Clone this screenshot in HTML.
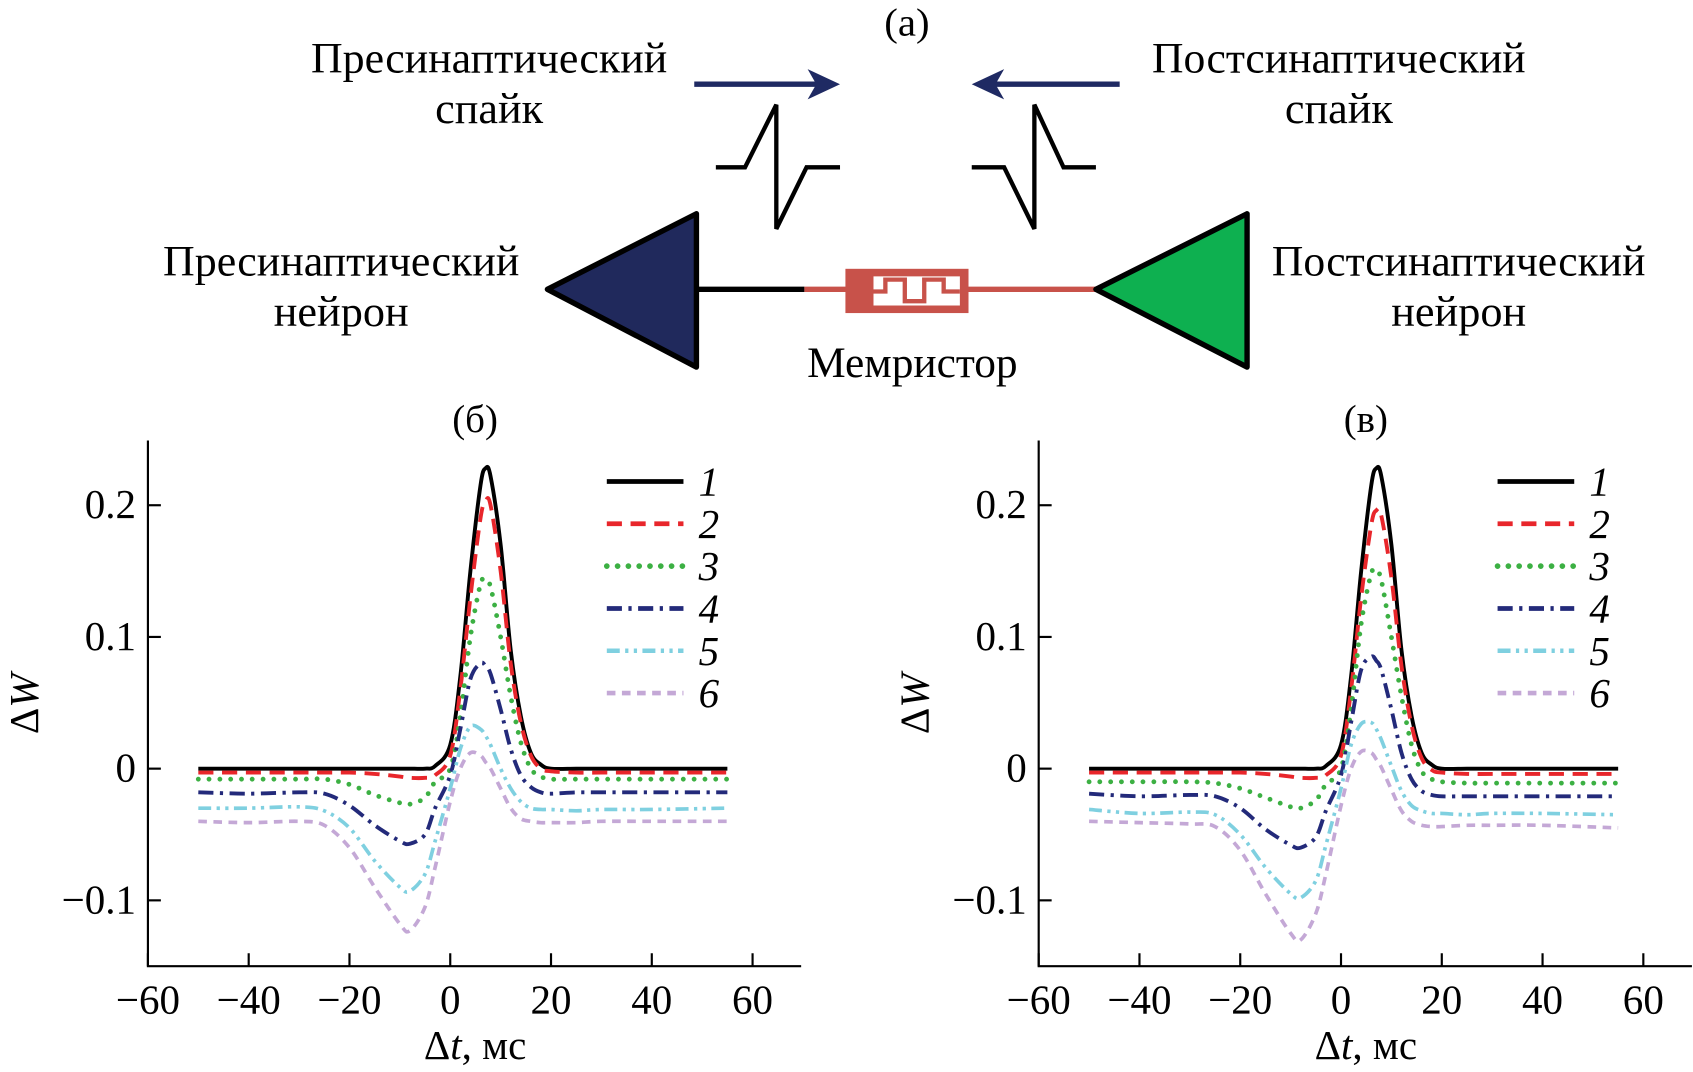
<!DOCTYPE html>
<html><head><meta charset="utf-8"><style>
html,body{margin:0;padding:0;background:#fff;}
svg{display:block;}
text{font-family:"Liberation Serif",serif;fill:#000;}
</style></head><body>
<svg id="fig" width="1693" height="1072" viewBox="0 0 1568 993" preserveAspectRatio="none" xmlns="http://www.w3.org/2000/svg">
<g>
<text x="840" y="33" font-size="36" text-anchor="middle" textLength="42" lengthAdjust="spacingAndGlyphs">(а)</text>
<text x="453" y="67" font-size="40" text-anchor="middle" textLength="330" lengthAdjust="spacingAndGlyphs">Пресинаптический</text>
<text x="453" y="114" font-size="40" text-anchor="middle" textLength="100" lengthAdjust="spacingAndGlyphs">спайк</text>
<text x="1240" y="67" font-size="40" text-anchor="middle" textLength="346" lengthAdjust="spacingAndGlyphs">Постсинаптический</text>
<text x="1240" y="114" font-size="40" text-anchor="middle" textLength="100" lengthAdjust="spacingAndGlyphs">спайк</text>
<text x="316" y="255" font-size="40" text-anchor="middle" textLength="330" lengthAdjust="spacingAndGlyphs">Пресинаптический</text>
<text x="316" y="302" font-size="40" text-anchor="middle" textLength="125" lengthAdjust="spacingAndGlyphs">нейрон</text>
<text x="1351" y="255" font-size="40" text-anchor="middle" textLength="346" lengthAdjust="spacingAndGlyphs">Постсинаптический</text>
<text x="1351" y="302" font-size="40" text-anchor="middle" textLength="125" lengthAdjust="spacingAndGlyphs">нейрон</text>
<text x="845" y="349" font-size="40" text-anchor="middle" textLength="195" lengthAdjust="spacingAndGlyphs">Мемристор</text>
<g><line x1="643" y1="78" x2="760" y2="78" stroke="#1f2a63" stroke-width="5"/><polygon points="778,78 748,64 756,78 748,92" fill="#1f2a63"/></g>
<g><line x1="1037" y1="78" x2="918" y2="78" stroke="#1f2a63" stroke-width="5"/><polygon points="900,78 930,64 922,78 930,92" fill="#1f2a63"/></g>
<polyline points="663,155 690,155 719,97 719,212 747,155 778,155" fill="none" stroke="#000" stroke-width="4"/>
<polyline points="900,155 930,155 958,212 958,97 985,155 1015,155" fill="none" stroke="#000" stroke-width="4"/>
<line x1="645" y1="268" x2="745" y2="268" stroke="#000" stroke-width="5"/>
<line x1="745" y1="268" x2="1015" y2="268" stroke="#c8524a" stroke-width="5"/>
<polygon points="507,268 645,198 645,340" fill="#20295c" stroke="#000" stroke-width="5" stroke-linejoin="round"/>
<polygon points="1015,268 1155,198 1155,340" fill="#0eb050" stroke="#000" stroke-width="5" stroke-linejoin="round"/>
<g>
<rect x="783" y="249" width="114" height="41" fill="#c8524a"/>
<rect x="809" y="256" width="80" height="27" fill="#fff"/>
<polyline points="809,270 820,270 820,259 838,259 838,279 856,279 856,259 874,259 874,270 889,270" fill="none" stroke="#c8524a" stroke-width="4"/>
</g>
<text x="440" y="400" font-size="36" text-anchor="middle">(б)</text>
<text x="1265" y="400" font-size="36" text-anchor="middle">(в)</text>
</g>
<g id="chartL"></g>
<g id="chartR"></g>
</svg>
<script>
const xs = [-50,-40,-30,-25,-20,-15,-10,-8,-5,-3,0,2,4,6,7,8,10,12,14,16,18,20,25,30,40,55];
const L1 = [0,0,0,0,0,0,0,0,0,0.002,0.018,0.07,0.15,0.215,0.228,0.222,0.17,0.09,0.04,0.012,0.003,0,0,0,0,0];
const L2 = [-0.003,-0.003,-0.003,-0.003,-0.003,-0.004,-0.006,-0.007,-0.007,-0.005,0.01,0.06,0.13,0.19,0.203,0.2,0.15,0.08,0.035,0.01,0,-0.002,-0.003,-0.003,-0.003,-0.003];
const L3 = [-0.008,-0.008,-0.008,-0.008,-0.012,-0.02,-0.026,-0.027,-0.022,-0.01,0.0,0.04,0.1,0.14,0.143,0.138,0.1,0.055,0.02,0.0,-0.006,-0.008,-0.008,-0.008,-0.008,-0.008];
const L4 = [-0.018,-0.019,-0.018,-0.019,-0.028,-0.043,-0.055,-0.057,-0.05,-0.03,-0.005,0.03,0.068,0.08,0.078,0.072,0.045,0.015,-0.005,-0.014,-0.018,-0.019,-0.018,-0.018,-0.018,-0.018];
const L5 = [-0.03,-0.03,-0.029,-0.032,-0.045,-0.07,-0.09,-0.093,-0.08,-0.055,-0.015,0.015,0.032,0.03,0.025,0.018,0.0,-0.015,-0.025,-0.03,-0.031,-0.031,-0.032,-0.031,-0.031,-0.03];
const L6 = [-0.04,-0.041,-0.04,-0.043,-0.06,-0.09,-0.118,-0.123,-0.105,-0.075,-0.025,0.0,0.012,0.01,0.005,0.0,-0.015,-0.03,-0.038,-0.04,-0.041,-0.041,-0.041,-0.04,-0.04,-0.04];
const R1 = [0,0,0,0,0,0,0,0,0,0.002,0.018,0.07,0.15,0.215,0.228,0.222,0.17,0.09,0.04,0.012,0.003,0,0,0,0,0];
const R2 = [-0.003,-0.003,-0.003,-0.003,-0.003,-0.004,-0.006,-0.007,-0.007,-0.005,0.01,0.06,0.13,0.185,0.196,0.192,0.145,0.078,0.033,0.008,-0.001,-0.003,-0.004,-0.004,-0.004,-0.004];
const R3 = [-0.01,-0.01,-0.01,-0.011,-0.015,-0.022,-0.029,-0.03,-0.024,-0.012,0.0,0.045,0.11,0.148,0.15,0.143,0.1,0.055,0.018,-0.002,-0.008,-0.01,-0.011,-0.011,-0.011,-0.011];
const R4 = [-0.019,-0.021,-0.02,-0.021,-0.03,-0.046,-0.058,-0.06,-0.052,-0.032,-0.005,0.035,0.075,0.085,0.082,0.075,0.045,0.012,-0.008,-0.017,-0.02,-0.021,-0.021,-0.021,-0.021,-0.021];
const R5 = [-0.031,-0.034,-0.033,-0.035,-0.05,-0.075,-0.095,-0.098,-0.085,-0.058,-0.015,0.018,0.034,0.035,0.03,0.022,0.002,-0.017,-0.028,-0.032,-0.034,-0.034,-0.035,-0.034,-0.034,-0.035];
const R6 = [-0.04,-0.041,-0.042,-0.044,-0.062,-0.095,-0.125,-0.13,-0.11,-0.08,-0.028,0.0,0.013,0.012,0.007,0.001,-0.016,-0.032,-0.04,-0.043,-0.044,-0.044,-0.043,-0.043,-0.043,-0.045];
const xTicks = [-60,-40,-20,0,20,40,60];
const xTickLabels = ["\u221260","\u221240","\u221220","0","20","40","60"];
const yTicks = [-0.1,0,0.1,0.2];
const yTickLabels = ["\u22120.1","0","0.1","0.2"];
const legendLabels = ["1","2","3","4","5","6"];

const NS="http://www.w3.org/2000/svg";
const styles=[
 {c:"#000",w:3.6,d:"",cap:"butt"},
 {c:"#e8262b",w:3.6,d:"14 8",cap:"butt"},
 {c:"#3cb043",w:4.5,d:"0 10",cap:"round"},
 {c:"#232a7a",w:3.6,d:"14 6 3 6",cap:"butt"},
 {c:"#7fd0e0",w:3.4,d:"12 5 3 5 3 5",cap:"butt"},
 {c:"#c4a8d6",w:3.4,d:"8 6",cap:"butt"}
];
function mk(tag,attrs,parent){const e=document.createElementNS(NS,tag);for(const k in attrs)e.setAttribute(k,attrs[k]);parent.appendChild(e);return e;}
function path(pts){let d="M"+pts[0][0]+","+pts[0][1];
 for(let i=0;i<pts.length-1;i++){const p0=pts[Math.max(0,i-1)],p1=pts[i],p2=pts[i+1],p3=pts[Math.min(pts.length-1,i+2)];
  const c1x=p1[0]+(p2[0]-p0[0])/6,c1y=p1[1]+(p2[1]-p0[1])/6,c2x=p2[0]-(p3[0]-p1[0])/6,c2y=p2[1]-(p3[1]-p1[1])/6;
  d+=" C"+c1x.toFixed(2)+","+c1y.toFixed(2)+" "+c2x.toFixed(2)+","+c2y.toFixed(2)+" "+p2[0].toFixed(2)+","+p2[1].toFixed(2);}
 return d;}
function chart(g,x0,series,legX){
 const X=v=>x0+(v+60)*280/60, Y=v=>712-v*1220;
 const ax=mk("path",{d:`M${x0},408 L${x0},895 L${x0+605},895`,fill:"none",stroke:"#000","stroke-width":2},g);
 
 
 xTicks.forEach((t,i)=>{
  mk("line",{x1:X(t),x2:X(t),y1:895,y2:883,stroke:"#000","stroke-width":2},g);
  const tx=mk("text",{x:X(t),y:939,"font-size":38,"text-anchor":"middle"},g);tx.textContent=xTickLabels[i];
  
  
 });
 yTicks.forEach((t,i)=>{
  mk("line",{x1:x0,x2:x0+12,y1:Y(t),y2:Y(t),stroke:"#000","stroke-width":2},g);
  const tx=mk("text",{x:x0-11,y:Y(t)+12,"font-size":38,"text-anchor":"end"},g);tx.textContent=yTickLabels[i];
  
  
 });
 const xt=mk("text",{x:x0+303,y:981,"font-size":38,"text-anchor":"middle"},g);
 xt.innerHTML='\u0394<tspan font-style="italic">t</tspan>, мс';
 
 
 const yt=mk("text",{x:0,y:0,"font-size":38,"text-anchor":"middle",transform:`translate(${x0-102},652) rotate(-90)`},g);
 yt.innerHTML='\u0394<tspan font-style="italic">W</tspan>';
 
 
 series.forEach((s,k)=>{
  const st=styles[k];
  const p=mk("path",{d:path(xs.map((x,i)=>[X(x),Y(s[i])])),fill:"none",stroke:st.c,"stroke-width":st.w,"stroke-dasharray":st.d,"stroke-linecap":st.cap},g);
  
  
  const ly=446+k*39.2;
  const ll=mk("line",{x1:legX,x2:legX+71,y1:ly,y2:ly,stroke:st.c,"stroke-width":st.w+0.8,"stroke-dasharray":st.d,"stroke-linecap":st.cap},g);
  
  
  const lt=mk("text",{x:legX+85,y:ly+13,"font-size":38,"font-style":"italic"},g);lt.textContent=legendLabels[k];
  
  
 });
}
chart(document.getElementById('chartL'),137,[L1,L2,L3,L4,L5,L6],562);
chart(document.getElementById('chartR'),962,[R1,R2,R3,R4,R5,R6],1387);
</script>
</body></html>
